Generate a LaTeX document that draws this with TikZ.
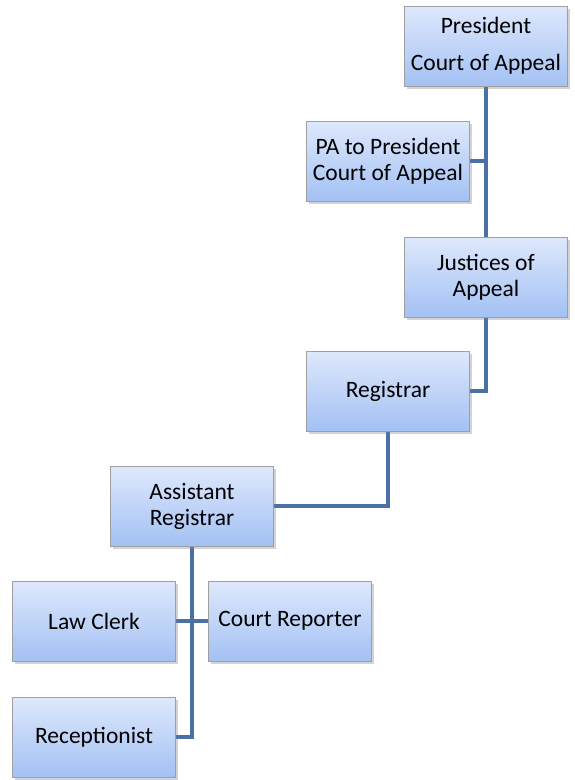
\documentclass[tikz,border=0pt]{standalone}
\usepackage{fontspec}
\setmainfont{Carlito}
\usepackage{xcolor}
\usetikzlibrary{shadows,backgrounds}

\definecolor{boxtop}{RGB}{222,232,252}
\definecolor{boxbot}{RGB}{163,193,244}
\definecolor{linkblue}{RGB}{74,112,164}

\begin{document}
\begin{tikzpicture}[x=1pt,y=-1pt,
  post/.style={draw=gray!75, line width=0.6pt, top color=boxtop, bottom color=boxbot,
    minimum width=163pt, minimum height=80pt, inner sep=1pt, align=center,
    font=\fontsize{23.5}{26}\selectfont,
    drop shadow={shadow xshift=2pt, shadow yshift=-3pt, opacity=0.35}},
  link/.style={draw=linkblue, line width=4.5pt}]
  \useasboundingbox (0,0) rectangle (574,780);
  % the posts
  \node[post] (pres)  at (486,46)  {President\\[11pt]Court of Appeal};
  \node[post] (pa)    at (388,161) {PA to President\\Court of Appeal};
  \node[post] (just)  at (486,277) {Justices of\\Appeal};
  \node[post] (reg)   at (388,391) {Registrar};
  \node[post] (asst)  at (192,506) {Assistant\\Registrar};
  \node[post] (clerk) at (94,621)  {Law Clerk};
  \node[post] (rep)   at (290,621) {Court Reporter};
  \node[post] (recep) at (94,737)  {Receptionist};
  % the lines between them
  \begin{scope}[on background layer]
    \draw[link] (pres) -- (just);
    \draw[link] (pa.east) -- (pres.south |- pa.east);
    \draw[link] (just.south) |- (reg.east);
    \draw[link] (reg.south) |- (asst.east);
    \draw[link] (asst.south) |- (recep.east);
    \draw[link] (clerk.east) -- (rep.west);
  \end{scope}
\end{tikzpicture}
\end{document}
